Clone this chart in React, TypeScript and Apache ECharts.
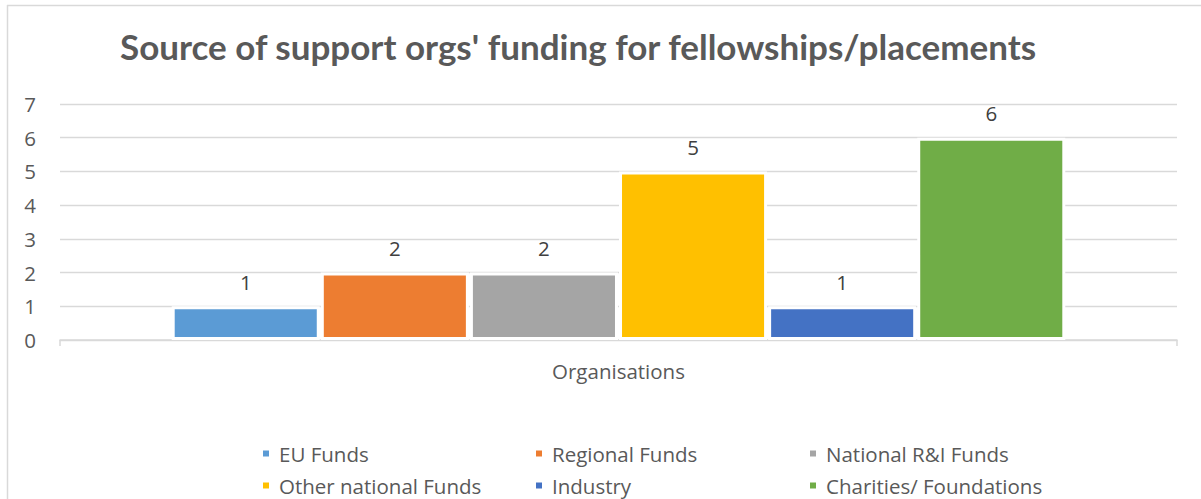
import React, { useEffect, useRef } from "react";
import * as echarts from "echarts";

const categories = ["Organisations"];
const seriesNames = [
  "EU Funds",
  "Regional Funds",
  "National R&I Funds",
  "Other national Funds",
  "Industry",
  "Charities/ Foundations",
];
const seriesValues = [1, 2, 2, 5, 1, 6];
const seriesColors = ["#5B9BD5", "#ED7D31", "#A5A5A5", "#FFC000", "#4472C4", "#70AD47"];
const titleText = "Source of support orgs' funding for fellowships/placements";

const TITLE_FONT = "Lato";
const FONT = "Open Sans";
const FS = 20.5;

export default function App() {
  const ref = useRef<HTMLDivElement>(null);
  useEffect(() => {
    if (!ref.current) return;
    const chart = echarts.init(ref.current, null, { renderer: "svg" });
    const legendLefts = [261, 534, 808];
    const legendTops = [443, 475];
    chart.setOption({
      animation: false,
      backgroundColor: "#ffffff",
      title: {
        text: titleText,
        left: 120,
        top: 28,
        padding: 0,
        textStyle: {
          fontFamily: TITLE_FONT,
          fontWeight: "bold",
          fontSize: 35,
          color: "#595959",
        },
      },
      graphic: [
        {
          type: "line",
          shape: { x1: 7, y1: 5.5, x2: 1201, y2: 5.5 },
          style: { stroke: "#D9D9D9", lineWidth: 1.5 },
          silent: true,
        },
        {
          type: "line",
          shape: { x1: 7.5, y1: 5, x2: 7.5, y2: 499 },
          style: { stroke: "#D9D9D9", lineWidth: 1.5 },
          silent: true,
        },
      ],
      legend: seriesNames.map((name, i) => ({
        data: [name],
        orient: "horizontal",
        left: legendLefts[i % 3],
        top: legendTops[Math.floor(i / 3)],
        padding: 0,
        itemWidth: 8,
        itemHeight: 8,
        icon: "rect",
        selectedMode: false,
        textStyle: {
          fontFamily: FONT,
          fontSize: FS,
          color: "#595959",
          lineHeight: 20,
          padding: [0, 0, 0, 4],
        },
      })),
      grid: { left: 60, right: 24, top: 104, bottom: 159, containLabel: false },
      xAxis: {
        type: "category",
        data: categories,
        axisLine: { show: true, lineStyle: { color: "#D9D9D9", width: 1.5 } },
        axisTick: { show: true, length: 6, lineStyle: { color: "#D9D9D9", width: 1.5 } },
        axisLabel: { fontFamily: FONT, fontSize: FS, color: "#595959", margin: 20 },
      },
      yAxis: {
        type: "value",
        min: 0,
        max: 7,
        interval: 1,
        axisLine: { show: false },
        axisTick: { show: false },
        splitLine: { lineStyle: { color: "#D9D9D9", width: 1.3 } },
        axisLabel: { fontFamily: FONT, fontSize: FS, color: "#595959", margin: 24 },
      },
      series: seriesNames.map((name, i) => ({
        name,
        type: "bar",
        data: [seriesValues[i]],
        barCategoryGap: "20%",
        barGap: "0.7%",
        itemStyle: { color: seriesColors[i], borderColor: "#ffffff", borderWidth: 3 },
        label: {
          show: true,
          position: "top",
          distance: 14,
          fontFamily: FONT,
          fontSize: FS,
          color: "#404040",
        },
      })),
    });
    return () => chart.dispose();
  }, []);
  return (
    <div
      ref={ref}
      style={{ position: "absolute", left: 0, top: 0, width: 1201, height: 499 }}
    />
  );
}
